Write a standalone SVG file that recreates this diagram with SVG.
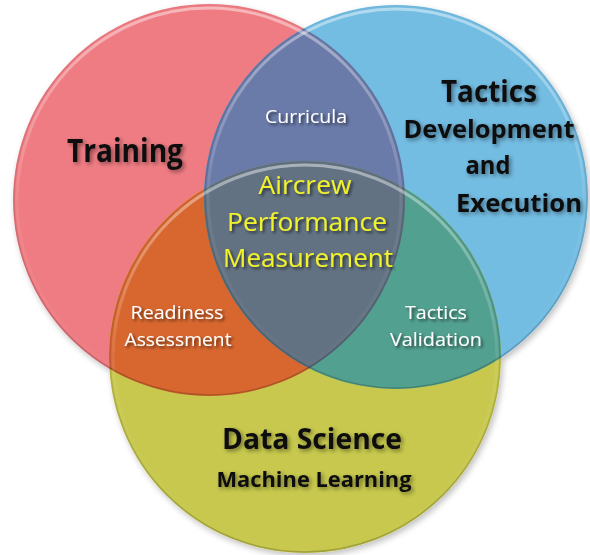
<svg xmlns="http://www.w3.org/2000/svg" width="590" height="555" viewBox="0 0 590 555">
<defs>
  <clipPath id="cpR"><circle cx="209" cy="200" r="196"/></clipPath>
  <clipPath id="cpB"><circle cx="396" cy="197" r="192"/></clipPath>
  <linearGradient id="rim" x1="0" y1="0" x2="0" y2="1">
    <stop offset="0" stop-color="#ffffff" stop-opacity="0.45"/>
    <stop offset="0.5" stop-color="#ffffff" stop-opacity="0.08"/>
    <stop offset="1" stop-color="#ffffff" stop-opacity="0"/>
  </linearGradient>
  <linearGradient id="rimDark" x1="0" y1="0" x2="0" y2="1">
    <stop offset="0" stop-color="#000000" stop-opacity="0.03"/>
    <stop offset="1" stop-color="#000000" stop-opacity="0.2"/>
  </linearGradient>
  <filter id="shadow" x="-10%" y="-10%" width="125%" height="125%">
    <feGaussianBlur in="SourceAlpha" stdDeviation="3"/>
    <feOffset dx="2" dy="3" result="b"/>
    <feComponentTransfer><feFuncA type="linear" slope="0.25"/></feComponentTransfer>
    <feMerge><feMergeNode/><feMergeNode in="SourceGraphic"/></feMerge>
  </filter>
  <filter id="txtShadow" x="-20%" y="-40%" width="140%" height="180%">
    <feGaussianBlur in="SourceAlpha" stdDeviation="1.6"/>
    <feOffset dx="2" dy="2"/>
    <feComponentTransfer><feFuncA type="linear" slope="0.6"/></feComponentTransfer>
    <feMerge><feMergeNode/><feMergeNode in="SourceGraphic"/></feMerge>
  </filter>
  <filter id="txtGlow" x="-20%" y="-40%" width="140%" height="180%">
    <feGaussianBlur in="SourceAlpha" stdDeviation="2"/>
    <feOffset dx="2" dy="2"/>
    <feComponentTransfer><feFuncA type="linear" slope="0.45"/></feComponentTransfer>
    <feMerge><feMergeNode/><feMergeNode in="SourceGraphic"/></feMerge>
  </filter>
</defs>
<style>
  text { font-family: "Open Sans", "Noto Sans", "Liberation Sans", sans-serif; text-anchor: middle; }
  .big { font-weight: bold; fill: #111111; filter: url(#txtGlow); }
  .small { fill: #ffffff; filter: url(#txtShadow); }
  .core { fill: #f2f22c; filter: url(#txtShadow); }
  .rimL { fill: none; stroke: url(#rim); stroke-width: 3; }
  .rimD { fill: none; stroke: url(#rimDark); stroke-width: 1.5; }
</style>

<rect width="590" height="555" fill="#ffffff"/>

<g id="circles" filter="url(#shadow)">
  <circle id="circle-training" cx="209" cy="200" r="196" fill="#ef7b83"/>
  <circle id="circle-tactics" cx="396" cy="197" r="192" fill="#73bce2"/>
  <circle id="circle-data" cx="305" cy="357" r="196" fill="#c7c84d"/>
</g>

<g id="overlaps">
  <circle cx="396" cy="197" r="192" fill="#6a7aa9" clip-path="url(#cpR)"/>
  <circle cx="305" cy="357" r="196" fill="#d8672f" clip-path="url(#cpR)"/>
  <circle cx="305" cy="357" r="196" fill="#52a08f" clip-path="url(#cpB)"/>
  <g clip-path="url(#cpB)">
    <circle cx="305" cy="357" r="196" fill="#627282" clip-path="url(#cpR)"/>
  </g>
</g>

<g id="rims">
  <circle class="rimD" cx="209" cy="200" r="195"/>
  <circle class="rimD" cx="396" cy="197" r="191"/>
  <circle class="rimD" cx="305" cy="357" r="195"/>
  <circle class="rimL" cx="209" cy="200" r="192"/>
  <circle class="rimL" cx="396" cy="197" r="188"/>
  <circle class="rimL" cx="305" cy="357" r="192"/>
</g>

<g id="connectors"/>

<g id="training">
  <text class="big" x="125" y="162" font-size="33" textLength="116" lengthAdjust="spacingAndGlyphs">Training</text>
</g>

<g id="tactics-development">
  <text class="big" x="489" y="102" font-size="30" textLength="96" lengthAdjust="spacingAndGlyphs">Tactics</text>
  <text class="big" x="489" y="138" font-size="25" textLength="171" lengthAdjust="spacingAndGlyphs">Development</text>
  <text class="big" x="488" y="174" font-size="25" textLength="45" lengthAdjust="spacingAndGlyphs">and</text>
  <text class="big" x="519" y="212" font-size="25" textLength="126" lengthAdjust="spacingAndGlyphs">Execution</text>
</g>

<g id="data-science">
  <text class="big" x="312" y="449" font-size="29" textLength="180" lengthAdjust="spacingAndGlyphs">Data Science</text>
  <text class="big" x="314" y="487" font-size="22" textLength="195" lengthAdjust="spacingAndGlyphs">Machine Learning</text>
</g>

<g id="curricula">
  <text class="small" x="306" y="123" font-size="19" textLength="82" lengthAdjust="spacingAndGlyphs">Curricula</text>
</g>

<g id="readiness-assessment">
  <text class="small" x="177" y="319" font-size="19" textLength="93" lengthAdjust="spacingAndGlyphs">Readiness</text>
  <text class="small" x="178" y="346" font-size="19" textLength="107" lengthAdjust="spacingAndGlyphs">Assessment</text>
</g>

<g id="tactics-validation">
  <text class="small" x="436" y="319" font-size="19" textLength="62" lengthAdjust="spacingAndGlyphs">Tactics</text>
  <text class="small" x="436" y="346" font-size="19" textLength="92" lengthAdjust="spacingAndGlyphs">Validation</text>
</g>

<g id="aircrew-performance-measurement">
  <text class="core" x="305" y="194" font-size="25" textLength="93" lengthAdjust="spacingAndGlyphs">Aircrew</text>
  <text class="core" x="307" y="231" font-size="25" textLength="160" lengthAdjust="spacingAndGlyphs">Performance</text>
  <text class="core" x="308" y="267" font-size="25" textLength="170" lengthAdjust="spacingAndGlyphs">Measurement</text>
</g>
</svg>
